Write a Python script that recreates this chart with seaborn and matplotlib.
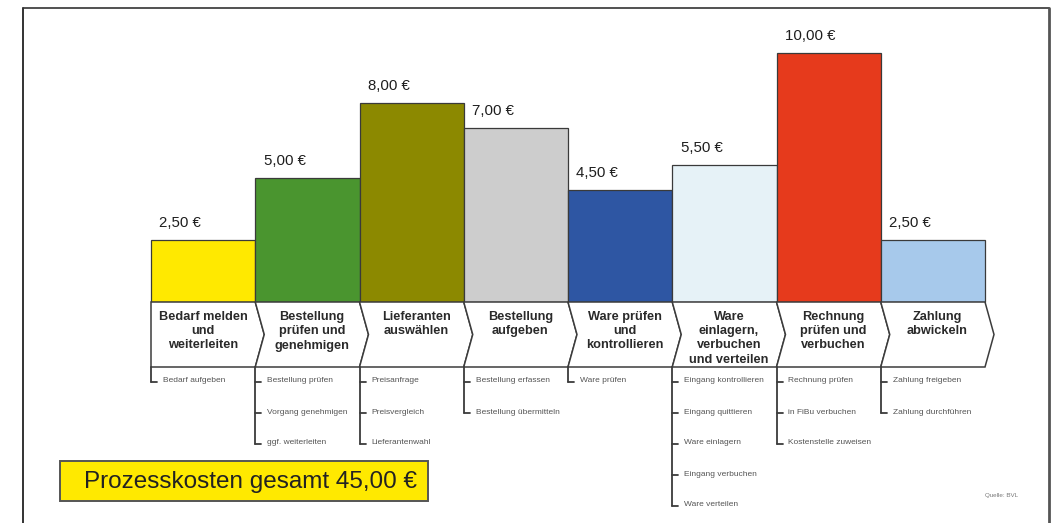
import matplotlib
matplotlib.use("Agg")
import matplotlib.pyplot as plt
from matplotlib.patches import Polygon, Rectangle
from matplotlib.lines import Line2D
import seaborn as sns

# ---- data ----
steps = ["Bedarf melden\nund\nweiterleiten",
         "Bestellung\nprüfen und\ngenehmigen",
         "Lieferanten\nauswählen",
         "Bestellung\naufgeben",
         "Ware prüfen\nund\nkontrollieren",
         "Ware\neinlagern,\nverbuchen\nund verteilen",
         "Rechnung\nprüfen und\nverbuchen",
         "Zahlung\nabwickeln"]
costs = [2.5, 5.0, 8.0, 7.0, 4.5, 5.5, 10.0, 2.5]
sub_items = [
    ["Bedarf aufgeben"],
    ["Bestellung prüfen", "Vorgang genehmigen", "ggf. weiterleiten"],
    ["Preisanfrage", "Preisvergleich", "Lieferantenwahl"],
    ["Bestellung erfassen", "Bestellung übermitteln"],
    ["Ware prüfen"],
    ["Eingang kontrollieren", "Eingang quittieren", "Ware einlagern",
     "Eingang verbuchen", "Ware verteilen"],
    ["Rechnung prüfen", "in FiBu verbuchen", "Kostenstelle zuweisen"],
    ["Zahlung freigeben", "Zahlung durchführen"],
]
colors = ["#FFE900", "#4A952F", "#8C8900", "#CDCDCD",
          "#2E56A3", "#E6F2F7", "#E63A1C", "#A7C9EB"]
total_label = "Prozesskosten gesamt"
source_label = "Quelle: BVL"


def eur(v):
    return f"{v:.2f}".replace(".", ",") + " €"


W, H = 1062, 523
sns.set_theme(style="white")
plt.rcParams["font.family"] = ["Liberation Sans", "DejaVu Sans"]

fig = plt.figure(figsize=(W / 100, H / 100), dpi=100)
fig.patch.set_facecolor("white")

# bar axes placed in pixel geometry
bx0, bx1, base_y, top_y = 151, 985, 302, 53
ax = fig.add_axes([bx0 / W, (H - base_y) / H, (bx1 - bx0) / W, (base_y - top_y) / H])
sns.barplot(x=list(range(len(steps))), y=costs, hue=list(range(len(steps))),
            palette=colors, width=1.0, legend=False, edgecolor="#3a3a3a",
            linewidth=0.9, saturation=1, ax=ax, zorder=3)
for patch in ax.patches:
    patch.set_clip_on(False)
ax.set_xlim(-0.5, len(steps) - 0.5)
ax.set_ylim(0, 10)
ax.axis("off")
for i, v in enumerate(costs):
    ax.annotate(eur(v), (i - 0.5, v), xytext=(6, 7), textcoords="offset points",
                ha="left", va="bottom", fontsize=10.8, color="#1e1e1e",
                annotation_clip=False)

# overlay axes in pixel coordinates (y downwards)
ov = fig.add_axes([0, 0, 1, 1], zorder=0)
ov.set_xlim(0, W)
ov.set_ylim(H, 0)
ov.axis("off")

edges = [ax.transData.transform((i - 0.5, 0))[0] for i in range(len(steps) + 1)]
c_top, c_bot, p = base_y, 367, 9
c_mid = (c_top + c_bot) / 2
lc = "#3c3c3c"
for i, name in enumerate(steps):
    L, R = edges[i], edges[i + 1]
    pts = [(L, c_top), (R, c_top), (R + p, c_mid), (R, c_bot), (L, c_bot)]
    if i > 0:
        pts.append((L + p, c_mid))
    ov.add_patch(Polygon(pts, closed=True, facecolor="white", edgecolor=lc,
                         linewidth=1.1, zorder=2))
    cx = (L + R) / 2 + (p / 2 if i > 0 else 0)
    ov.text(cx, 311, name, ha="center", va="top", fontsize=9.2, color="#2a2a2a",
            linespacing=1.25, fontweight="bold", zorder=3)

    # sub-items tree
    ys = [382 + 31 * k for k in range(len(sub_items[i]))]
    ov.add_line(Line2D([L, L], [c_bot, ys[-1]], color=lc, lw=1.3, zorder=2))
    for y, t in zip(ys, sub_items[i]):
        ov.add_line(Line2D([L, L + 6], [y, y], color=lc, lw=1.3, zorder=2))
        ov.text(L + 12, y - 1, t, ha="left", va="center", fontsize=6,
                color="#555555", zorder=3)

# total box
ov.add_patch(Rectangle((60, 461), 368, 40, facecolor="#FFE900",
                       edgecolor="#555555", linewidth=1.4, zorder=2))
ov.text(84, 482, f"{total_label} {eur(sum(costs))}", ha="left", va="center",
        fontsize=17.5, color="#222", zorder=3)
ov.text(1018, 496, source_label, ha="right", va="center", fontsize=4.5,
        color="#777777")

# frame
ov.add_line(Line2D([23, 23], [8, H], color="#111", lw=1.2))
ov.add_line(Line2D([23, 1049], [8, 8], color="#333", lw=1.2))
ov.add_line(Line2D([1049, 1049], [8, H], color="#555", lw=2.0))

fig.savefig("out.png", dpi=100, facecolor="white")
